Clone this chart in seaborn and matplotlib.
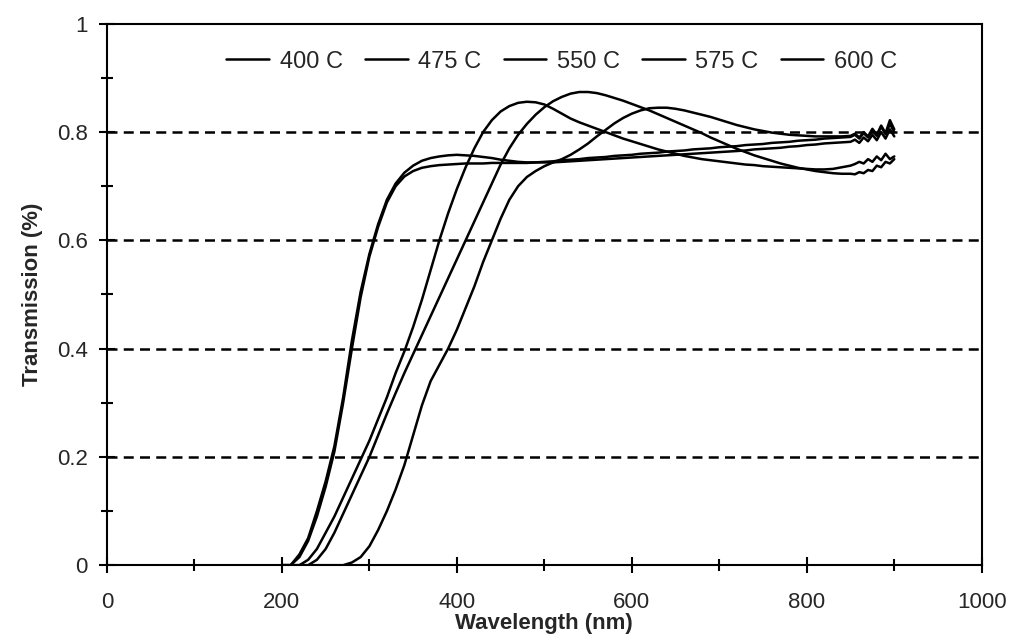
import pandas as pd
import matplotlib
matplotlib.use("Agg")
import matplotlib.pyplot as plt
import seaborn as sns
from matplotlib.ticker import MultipleLocator, FuncFormatter

# Wavelength grid (nm): 10 nm steps, then 5 nm steps in the noisy tail
wavelength = list(range(200, 850, 10)) + list(range(850, 901, 5))

# Transmission values
t_400 = [0, 0, 0.02, 0.05, 0.10, 0.155, 0.22, 0.31, 0.415, 0.505,
         0.575, 0.63, 0.675, 0.705, 0.725, 0.738, 0.747, 0.752, 0.755, 0.757,
         0.758, 0.757, 0.756, 0.754, 0.752, 0.749, 0.747, 0.745, 0.744, 0.744,
         0.745, 0.746, 0.748, 0.749, 0.750, 0.752, 0.753, 0.754, 0.756, 0.757,
         0.758, 0.760, 0.761, 0.762, 0.764, 0.765, 0.766, 0.768, 0.769, 0.770,
         0.772, 0.773, 0.774, 0.776, 0.777, 0.778, 0.780, 0.781, 0.782, 0.784,
         0.785, 0.786, 0.788, 0.789, 0.790,
         0.791, 0.795, 0.788, 0.798, 0.790, 0.803, 0.793, 0.810, 0.796, 0.815, 0.800]

t_475 = [0, 0, 0.015, 0.045, 0.09, 0.145, 0.21, 0.30, 0.40, 0.495,
         0.57, 0.625, 0.67, 0.70, 0.718, 0.728, 0.734, 0.737, 0.739, 0.740,
         0.741, 0.742, 0.742, 0.742, 0.743, 0.743, 0.743, 0.743, 0.743, 0.744,
         0.744, 0.744, 0.745, 0.746, 0.747, 0.748, 0.749, 0.750, 0.751, 0.752,
         0.753, 0.754, 0.755, 0.756, 0.757, 0.758, 0.759, 0.760, 0.761, 0.762,
         0.763, 0.764, 0.765, 0.766, 0.768, 0.769, 0.770, 0.771, 0.773, 0.774,
         0.776, 0.777, 0.779, 0.780, 0.781,
         0.782, 0.786, 0.780, 0.790, 0.783, 0.795, 0.785, 0.800, 0.788, 0.805, 0.792]

t_550 = [0, 0, 0, 0.01, 0.03, 0.06, 0.09, 0.125, 0.16, 0.195,
         0.23, 0.27, 0.31, 0.355, 0.395, 0.44, 0.49, 0.545, 0.60, 0.65,
         0.695, 0.735, 0.77, 0.80, 0.822, 0.838, 0.848, 0.854, 0.856, 0.855,
         0.851, 0.843, 0.834, 0.825, 0.818, 0.812, 0.806, 0.800, 0.794, 0.788,
         0.783, 0.778, 0.773, 0.768, 0.764, 0.760, 0.756, 0.753, 0.750, 0.748,
         0.746, 0.744, 0.742, 0.740, 0.739, 0.737, 0.736, 0.735, 0.734, 0.733,
         0.732, 0.731, 0.731, 0.732, 0.735,
         0.738, 0.741, 0.745, 0.742, 0.750, 0.745, 0.755, 0.748, 0.760, 0.750, 0.755]

t_575 = [0, 0, 0, 0, 0.01, 0.03, 0.06, 0.095, 0.13, 0.165,
         0.20, 0.24, 0.28, 0.318, 0.355, 0.39, 0.425, 0.46, 0.495, 0.53,
         0.565, 0.60, 0.635, 0.67, 0.705, 0.74, 0.77, 0.795, 0.815, 0.832,
         0.846, 0.857, 0.865, 0.871, 0.874, 0.874, 0.872, 0.868, 0.863, 0.858,
         0.852, 0.846, 0.840, 0.833, 0.826, 0.819, 0.812, 0.805, 0.798, 0.790,
         0.783, 0.776, 0.769, 0.763, 0.757, 0.752, 0.747, 0.742, 0.738, 0.734,
         0.731, 0.728, 0.726, 0.724, 0.723,
         0.723, 0.722, 0.726, 0.724, 0.730, 0.728, 0.738, 0.735, 0.745, 0.742, 0.750]

t_600 = [0, 0, 0, 0, 0, 0, 0, 0, 0.005, 0.015,
         0.035, 0.065, 0.10, 0.14, 0.185, 0.24, 0.295, 0.34, 0.37, 0.40,
         0.435, 0.475, 0.515, 0.56, 0.60, 0.64, 0.675, 0.70, 0.717, 0.728,
         0.737, 0.744, 0.750, 0.758, 0.768, 0.779, 0.792, 0.804, 0.816, 0.826,
         0.834, 0.840, 0.844, 0.845, 0.845, 0.843, 0.840, 0.836, 0.832, 0.828,
         0.823, 0.818, 0.813, 0.809, 0.805, 0.802, 0.799, 0.797, 0.795, 0.794,
         0.793, 0.792, 0.792, 0.792, 0.792,
         0.793, 0.797, 0.790, 0.800, 0.792, 0.806, 0.795, 0.812, 0.798, 0.822, 0.805]

series = {"400 C": t_400, "475 C": t_475, "550 C": t_550, "575 C": t_575, "600 C": t_600}

# Long format for seaborn
frames = []
for name, vals in series.items():
    frames.append(pd.DataFrame({"Wavelength": wavelength, "Transmission": vals, "Temp": name}))
data = pd.concat(frames, ignore_index=True)

sns.set_style("ticks")
plt.rcParams['font.family'] = ['Liberation Sans', 'DejaVu Sans']

fig = plt.figure(figsize=(10.09, 6.43), dpi=100)
ax = fig.add_axes([0.106, 0.121, 0.867, 0.842])

# dashed horizontal grid
for yv in [0.2, 0.4, 0.6, 0.8]:
    ax.axhline(yv, color="black", linestyle=(0, (4, 2.5)), linewidth=1.8, zorder=1)

palette = {k: "black" for k in series}
sns.lineplot(data=data, x="Wavelength", y="Transmission", hue="Temp", palette=palette,
             linewidth=1.8, ax=ax, sort=False, estimator=None, zorder=3)

ax.set_xlim(0, 1000)
ax.set_ylim(0, 1)
ax.xaxis.set_major_locator(MultipleLocator(200))
ax.xaxis.set_minor_locator(MultipleLocator(100))
ax.yaxis.set_major_locator(MultipleLocator(0.2))
ax.yaxis.set_minor_locator(MultipleLocator(0.1))
ax.yaxis.set_major_formatter(FuncFormatter(lambda v, p: f"{v:g}"))
ax.tick_params(which="major", direction="inout", length=12, width=1.5, labelsize=16, color="black")
ax.tick_params(which="minor", direction="inout", length=9, width=1.5, color="black")
ax.tick_params(axis="x", pad=13)
ax.tick_params(axis="y", pad=8)
for sp in ax.spines.values():
    sp.set_linewidth(1.5)
    sp.set_color("black")

ax.set_xlabel("Wavelength (nm)", fontsize=16, fontweight="bold", labelpad=0)
ax.set_ylabel("Transmission (%)", fontsize=16, fontweight="bold", labelpad=10)

ax.legend(loc="center", bbox_to_anchor=(0.52, 0.93), ncol=5, frameon=False,
          fontsize=17, handlelength=1.8, columnspacing=0.95, handletextpad=0.45)

fig.savefig("out.png", dpi=100)
